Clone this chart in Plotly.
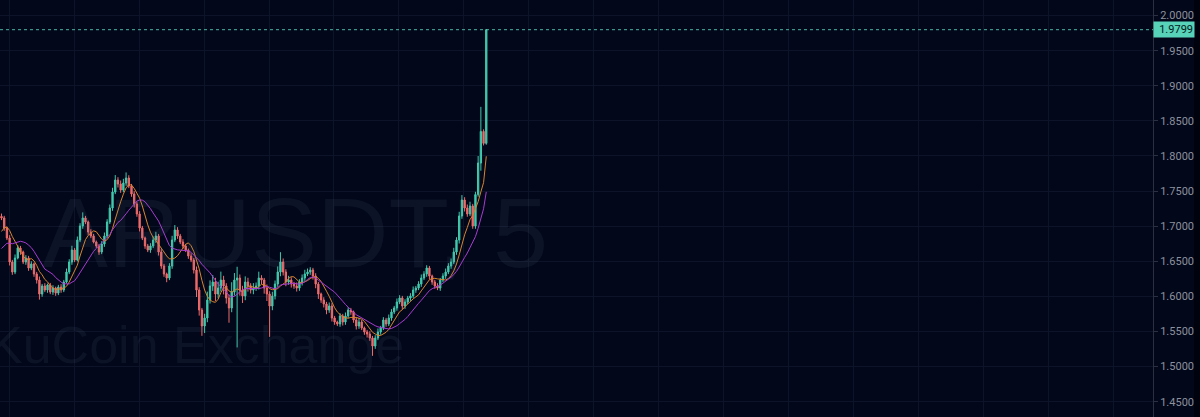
import pandas as pd
import plotly.graph_objects as go

# closes before the visible window (only feed the moving averages)
warmup_close = [1.634, 1.642, 1.649, 1.644, 1.638, 1.646, 1.654,
                1.662, 1.674, 1.684, 1.696, 1.706, 1.714]

# 5-minute closes left to right
close = [
    1.7117, 1.6974, 1.6832, 1.6490, 1.6347, 1.6547, 1.6689, 1.6632, 1.6490, 1.6547,
    1.6404, 1.6461, 1.6319, 1.6233, 1.6034, 1.6148, 1.6091, 1.6162, 1.6062, 1.6119,
    1.6048, 1.6134, 1.6091, 1.6205, 1.6347, 1.6490, 1.6661, 1.6518, 1.6803, 1.7003,
    1.7117, 1.7060, 1.6917, 1.6860, 1.6775, 1.6718, 1.6632, 1.6746, 1.6860, 1.7060,
    1.7259, 1.7487, 1.7658, 1.7601, 1.7515, 1.7615, 1.7686, 1.7572, 1.7459, 1.7316,
    1.7174, 1.6974, 1.6832, 1.6718, 1.6661, 1.6718, 1.6803, 1.6860, 1.6632, 1.6433,
    1.6319, 1.6262, 1.6433, 1.6803, 1.6946, 1.6860, 1.6775, 1.6718, 1.6661, 1.6575,
    1.6518, 1.6376, 1.6091, 1.5806, 1.5578, 1.5692, 1.5948, 1.6148, 1.6205, 1.6034,
    1.6119, 1.6233, 1.6148, 1.5977, 1.5835, 1.6062, 1.6233, 1.6262, 1.6091, 1.6006,
    1.6205, 1.6148, 1.6091, 1.6119, 1.6148, 1.6262, 1.6233, 1.6119, 1.6034, 1.5863,
    1.6006, 1.6176, 1.6347, 1.6490, 1.6347, 1.6205, 1.6233, 1.6176, 1.6148, 1.6119,
    1.6205, 1.6262, 1.6319, 1.6347, 1.6376, 1.6290, 1.6176, 1.6034, 1.5948, 1.5892,
    1.5806, 1.5863, 1.5692, 1.5635, 1.5607, 1.5721, 1.5635, 1.5721, 1.5806, 1.5778,
    1.5664, 1.5578, 1.5635, 1.5550, 1.5493, 1.5464, 1.5407, 1.5293, 1.5407, 1.5493,
    1.5550, 1.5664, 1.5607, 1.5692, 1.5778, 1.5835, 1.5920, 1.5977, 1.5863, 1.5920,
    1.5977, 1.6006, 1.6091, 1.6119, 1.6176, 1.6262, 1.6319, 1.6404, 1.6290, 1.6205,
    1.6148, 1.6119, 1.6233, 1.6290, 1.6347, 1.6433, 1.6490, 1.6632, 1.6803, 1.7145,
    1.7373, 1.7259, 1.7174, 1.7288, 1.7003, 1.7450, 1.7900, 1.8350, 1.8180, 1.9799,
]

upper_wick = [
    0.004, 0.003, 0.002, 0.004, 0.003, 0.005, 0.004, 0.003, 0.002, 0.004,
    0.003, 0.004, 0.002, 0.003, 0.005, 0.003, 0.004, 0.002, 0.003, 0.004,
    0.002, 0.003, 0.004, 0.003, 0.005, 0.004, 0.006, 0.003, 0.005, 0.004,
    0.008, 0.003, 0.002, 0.004, 0.003, 0.002, 0.003, 0.004, 0.005, 0.004,
    0.005, 0.006, 0.007, 0.004, 0.005, 0.006, 0.008, 0.004, 0.003, 0.004,
    0.003, 0.004, 0.003, 0.002, 0.003, 0.004, 0.005, 0.006, 0.003, 0.004,
    0.003, 0.002, 0.004, 0.006, 0.007, 0.004, 0.003, 0.004, 0.003, 0.002,
    0.004, 0.003, 0.005, 0.004, 0.003, 0.006, 0.012, 0.008, 0.010, 0.006,
    0.009, 0.012, 0.006, 0.004, 0.005, 0.014, 0.010, 0.016, 0.005, 0.006,
    0.008, 0.006, 0.004, 0.007, 0.005, 0.009, 0.004, 0.003, 0.005, 0.004,
    0.006, 0.005, 0.008, 0.014, 0.005, 0.004, 0.006, 0.004, 0.003, 0.005,
    0.004, 0.005, 0.006, 0.005, 0.004, 0.003, 0.004, 0.003, 0.002, 0.004,
    0.003, 0.005, 0.004, 0.003, 0.002, 0.004, 0.003, 0.005, 0.004, 0.003,
    0.002, 0.004, 0.006, 0.003, 0.002, 0.003, 0.004, 0.003, 0.004, 0.005,
    0.003, 0.004, 0.003, 0.005, 0.004, 0.003, 0.005, 0.004, 0.003, 0.004,
    0.003, 0.004, 0.005, 0.003, 0.004, 0.005, 0.004, 0.004, 0.003, 0.002,
    0.003, 0.004, 0.003, 0.004, 0.005, 0.004, 0.005, 0.006, 0.004, 0.006,
    0.007, 0.004, 0.005, 0.006, 0.003, 0.004, 0.010, 0.035, 0.003, 0.000,
]

lower_wick = [
    0.003, 0.004, 0.003, 0.005, 0.004, 0.003, 0.002, 0.004, 0.003, 0.004,
    0.004, 0.003, 0.004, 0.005, 0.008, 0.004, 0.003, 0.004, 0.003, 0.004,
    0.004, 0.003, 0.004, 0.003, 0.002, 0.003, 0.004, 0.003, 0.002, 0.003,
    0.004, 0.003, 0.004, 0.003, 0.002, 0.003, 0.004, 0.003, 0.004, 0.003,
    0.003, 0.004, 0.003, 0.005, 0.004, 0.003, 0.004, 0.003, 0.004, 0.005,
    0.004, 0.005, 0.003, 0.004, 0.003, 0.004, 0.003, 0.004, 0.005, 0.004,
    0.004, 0.006, 0.003, 0.004, 0.003, 0.004, 0.003, 0.004, 0.003, 0.004,
    0.003, 0.005, 0.010, 0.008, 0.014, 0.010, 0.006, 0.005, 0.007, 0.010,
    0.006, 0.005, 0.012, 0.008, 0.021, 0.006, 0.005, 0.096, 0.008, 0.010,
    0.006, 0.008, 0.005, 0.006, 0.004, 0.005, 0.006, 0.008, 0.010, 0.044,
    0.006, 0.005, 0.004, 0.006, 0.005, 0.006, 0.004, 0.005, 0.004, 0.005,
    0.004, 0.005, 0.004, 0.003, 0.004, 0.005, 0.006, 0.007, 0.004, 0.005,
    0.006, 0.004, 0.005, 0.004, 0.003, 0.004, 0.005, 0.004, 0.003, 0.004,
    0.004, 0.005, 0.004, 0.003, 0.004, 0.005, 0.004, 0.014, 0.004, 0.003,
    0.004, 0.003, 0.004, 0.003, 0.004, 0.003, 0.004, 0.003, 0.005, 0.004,
    0.003, 0.004, 0.003, 0.004, 0.003, 0.004, 0.003, 0.004, 0.005, 0.004,
    0.004, 0.003, 0.004, 0.003, 0.004, 0.003, 0.004, 0.003, 0.004, 0.005,
    0.004, 0.005, 0.004, 0.003, 0.004, 0.004, 0.003, 0.011, 0.003, 0.002,
]

price_ticks = [1.45, 1.50, 1.55, 1.60, 1.65, 1.70, 1.75, 1.80, 1.85, 1.90, 1.95, 2.00]
last_price = 1.9799
symbol_text = "ARUSDT, 5"
exchange_text = "KuCoin Exchange"

BG = "#02071a"
GRID = "#0d1328"
UP = "#42c9ad"
DOWN = "#ee6b6b"

opens = [warmup_close[-1]] + close[:-1]
highs = [max(o, c) + w for o, c, w in zip(opens, close, upper_wick)]
lows = [min(o, c) - w for o, c, w in zip(opens, close, lower_wick)]
idx = list(range(len(close)))

all_close = pd.Series(warmup_close + close)
ma_fast = all_close.rolling(7).mean().iloc[len(warmup_close):].tolist()
ma_slow = all_close.rolling(14).mean().iloc[len(warmup_close):].tolist()

fig = go.Figure()
fig.add_trace(go.Candlestick(x=idx, open=opens, high=highs, low=lows, close=close,
                             increasing=dict(line=dict(color=UP, width=1), fillcolor=UP),
                             decreasing=dict(line=dict(color=DOWN, width=1), fillcolor=DOWN),
                             whiskerwidth=0,
                             hoverinfo="skip"))
fig.add_trace(go.Scatter(x=idx, y=ma_fast, mode="lines",
                         line=dict(color="#d8842c", width=1), hoverinfo="skip"))
fig.add_trace(go.Scatter(x=idx, y=ma_slow, mode="lines",
                         line=dict(color="#a83bd0", width=1), hoverinfo="skip"))

# last price line + label
fig.add_shape(type="line", xref="paper", yref="y", x0=0, x1=1, y0=last_price, y1=last_price,
              line=dict(color="rgba(86,211,184,0.85)", width=1, dash="dot"))
fig.add_annotation(xref="paper", yref="y", x=1, y=last_price, xanchor="left", yanchor="middle",
                   text="1.9799", showarrow=False, bgcolor="#56d3b8", borderpad=1,
                   width=38, align="right",
                   font=dict(family="Roboto", size=11, color="#08201c"))

# dark strip at the far right edge
fig.add_shape(type="rect", xref="paper", yref="paper", x0=1194 / 1153, x1=1200 / 1153,
              y0=0, y1=1, line_width=0, fillcolor="#00030d", layer="below")

# watermark
fig.add_annotation(xref="paper", yref="paper", x=40 / 1153, y=1 - 232 / 417,
                   xanchor="left", yanchor="middle", text=symbol_text, showarrow=False,
                   font=dict(family="Liberation Sans", size=99, color="rgba(110,125,160,0.10)"))
fig.add_annotation(xref="paper", yref="paper", x=-14 / 1153, y=1 - 345 / 417,
                   xanchor="left", yanchor="middle", text=exchange_text, showarrow=False,
                   font=dict(family="Liberation Sans", size=52, color="rgba(110,125,160,0.10)"))

fig.update_layout(
    width=1200, height=417,
    margin=dict(l=0, r=47, t=0, b=0),
    paper_bgcolor=BG, plot_bgcolor=BG,
    showlegend=False,
    xaxis=dict(range=[-0.554, 425.18], rangeslider_visible=False, showticklabels=False,
               tick0=2.77, dtick=24, showgrid=True, gridcolor=GRID, zeroline=False, ticks=""),
    yaxis=dict(side="right", range=[1.4282, 2.0222], tickvals=price_ticks, tickformat=".4f",
               showgrid=True, gridcolor=GRID, zeroline=False,
               showline=True, linecolor="#2a3042", linewidth=1,
               ticks="outside", ticklen=4, tickcolor="#2a3042",
               tickfont=dict(family="Roboto", size=11, color="#8c919d")),
)

# page body margin would push the chart 8px off the window
fig.write_html("out.html", config={"displayModeBar": False},
               post_script="document.body.style.margin='0px';"
               "document.body.style.overflow='hidden';")
